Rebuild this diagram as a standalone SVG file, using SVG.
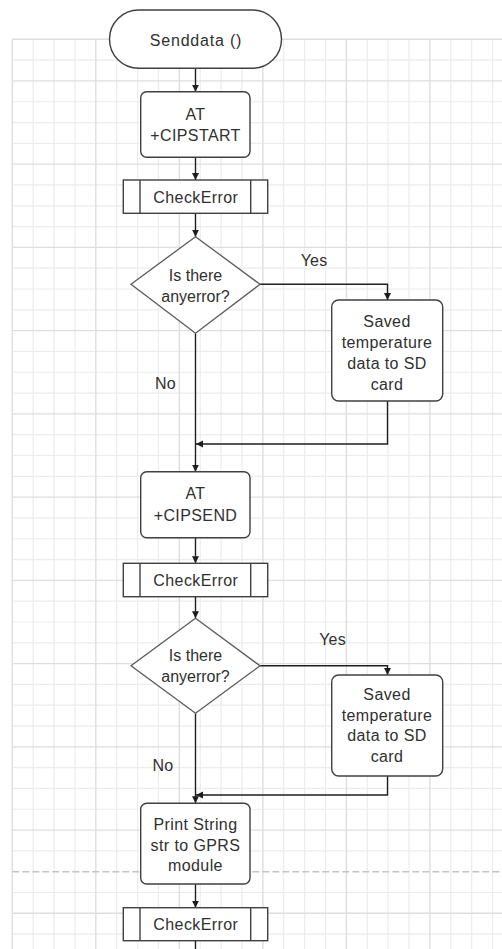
<svg xmlns="http://www.w3.org/2000/svg" width="502" height="949" viewBox="0 0 502 949">
  <defs>
    <style>
      .grid-minor { stroke: #ececec; stroke-width: 1.2; fill: none; }
      .grid-major { stroke: #dedede; stroke-width: 1.4; fill: none; }
      .page-break { stroke: #c4c4c4; stroke-width: 1.4; stroke-dasharray: 7 3; fill: none; }
      .box { fill: #ffffff; stroke: #404040; stroke-width: 1.4; }
      .decision { fill: #ffffff; stroke: #5a5a5a; stroke-width: 1.3; }
      .sub-bar { stroke: #404040; stroke-width: 1.4; fill: none; }
      .wire { fill: none; stroke: #1e1e1e; stroke-width: 1.4; marker-end: url(#arrow); }
      .wire-plain { fill: none; stroke: #1e1e1e; stroke-width: 1.4; }
      text { font-family: "Liberation Sans", Arial, sans-serif; font-size: 16px; fill: #303030; text-anchor: middle; letter-spacing: 0.4px; }
      .label { text-anchor: middle; letter-spacing: 0.2px; }
    </style>
    <marker id="arrow" markerWidth="8" markerHeight="8" refX="7" refY="3.5" orient="auto" markerUnits="userSpaceOnUse">
      <path d="M0,0 L7,3.5 L0,7 Z" fill="#1e1e1e"/>
    </marker>
  </defs>

  <rect x="0" y="0" width="502" height="949" fill="#ffffff"/>

  <!-- background grid -->
  <g id="grid">
    <path class="grid-minor" d="M33.18,39.3V949 M54.06,39.3V949 M74.94,39.3V949 M116.7,39.3V949 M137.58,39.3V949 M158.46,39.3V949 M200.22,39.3V949 M221.1,39.3V949 M241.98,39.3V949 M283.74,39.3V949 M304.62,39.3V949 M325.5,39.3V949 M367.26,39.3V949 M388.14,39.3V949 M409.02,39.3V949 M450.78,39.3V949 M471.66,39.3V949 M492.54,39.3V949
      M12.3,60.11H502 M12.3,101.73H502 M12.3,122.54H502 M12.3,143.35H502 M12.3,184.97H502 M12.3,205.78H502 M12.3,226.59H502 M12.3,268.21H502 M12.3,289.02H502 M12.3,309.83H502 M12.3,351.45H502 M12.3,372.26H502 M12.3,393.07H502 M12.3,434.69H502 M12.3,455.5H502 M12.3,476.31H502 M12.3,517.93H502 M12.3,538.74H502 M12.3,559.55H502 M12.3,601.17H502 M12.3,621.98H502 M12.3,642.79H502 M12.3,684.41H502 M12.3,705.22H502 M12.3,726.03H502 M12.3,767.65H502 M12.3,788.46H502 M12.3,809.27H502 M12.3,850.89H502 M12.3,892.51H502 M12.3,934.13H502"/>
    <path class="grid-major" d="M12.3,39.3V949 M95.82,39.3V949 M179.34,39.3V949 M262.86,39.3V949 M346.38,39.3V949 M429.9,39.3V949
      M12.3,39.3H502 M12.3,80.92H502 M12.3,164.16H502 M12.3,247.4H502 M12.3,330.64H502 M12.3,413.88H502 M12.3,497.12H502 M12.3,580.36H502 M12.3,663.6H502 M12.3,746.84H502 M12.3,830.08H502 M12.3,913.32H502"/>
    <path class="page-break" d="M12.3,871.7H502"/>
  </g>

  <!-- connectors -->
  <g id="connectors">
    <path class="wire" d="M195.5,68.3V91.7"/>
    <path class="wire" d="M195.5,157.3V180"/>
    <path class="wire" d="M195.5,213.3V236.7"/>
    <path class="wire" d="M260,284.3H387.5V300"/>
    <path class="wire" d="M195.5,333.3V471.7"/>
    <path class="wire" d="M387.5,401V444H196"/>
    <path class="wire" d="M195.5,537.7V563.3"/>
    <path class="wire" d="M195.5,596.7V618.3"/>
    <path class="wire" d="M260,665.8H387.5V675"/>
    <path class="wire" d="M195.5,713.3V803.3"/>
    <path class="wire" d="M387.5,776V795H196"/>
    <path class="wire" d="M195.5,884V907.7"/>
    <path class="wire-plain" d="M195.5,940.7V949"/>
  </g>

  <!-- branch labels -->
  <g id="labels">
    <text class="label" x="314" y="265.5">Yes</text>
    <text class="label" x="165.5" y="389">No</text>
    <text class="label" x="332.5" y="645">Yes</text>
    <text class="label" x="163" y="770.5">No</text>
  </g>

  <g id="start">
    <rect class="box" x="109.5" y="10" width="172" height="58.3" rx="29.15"/>
    <text x="196" y="45.7" style="letter-spacing:0.8px">Senddata ()</text>
  </g>

  <g id="cipstart">
    <rect class="box" x="140.7" y="91.7" width="109.3" height="65.6" rx="6"/>
    <text x="195.5" y="120">AT</text>
    <text x="195.5" y="140.7">+CIPSTART</text>
  </g>

  <g id="check1">
    <rect class="box" x="123.3" y="180" width="144.4" height="33.3"/>
    <path class="sub-bar" d="M140,180V213.3 M250.7,180V213.3"/>
    <text x="195.8" y="203">CheckError</text>
  </g>

  <g id="decision1">
    <polygon class="decision" points="195.5,236.7 260,284.3 195.5,333.3 131,284.3"/>
    <text x="195.5" y="280.7" style="letter-spacing:0">Is there</text>
    <text x="195.5" y="301.5" style="letter-spacing:0">anyerror?</text>
  </g>

  <g id="save1">
    <rect class="box" x="331.7" y="300" width="111" height="101" rx="7"/>
    <text x="387" y="326.5">Saved</text>
    <text x="387" y="347.5">temperature</text>
    <text x="387" y="369">data to SD</text>
    <text x="387" y="390">card</text>
  </g>

  <g id="cipsend">
    <rect class="box" x="140.7" y="471.7" width="109.3" height="66" rx="6"/>
    <text x="195.5" y="499">AT</text>
    <text x="195.5" y="520.7">+CIPSEND</text>
  </g>

  <g id="check2">
    <rect class="box" x="123.3" y="563.3" width="144.4" height="33.4"/>
    <path class="sub-bar" d="M140,563.3V596.7 M250.7,563.3V596.7"/>
    <text x="195.8" y="585.7">CheckError</text>
  </g>

  <g id="decision2">
    <polygon class="decision" points="195.5,618.3 260,665.8 195.5,713.3 131,665.8"/>
    <text x="195.5" y="661" style="letter-spacing:0">Is there</text>
    <text x="195.5" y="682" style="letter-spacing:0">anyerror?</text>
  </g>

  <g id="save2">
    <rect class="box" x="331.7" y="675" width="111" height="101" rx="7"/>
    <text x="387" y="699.7">Saved</text>
    <text x="387" y="720.5">temperature</text>
    <text x="387" y="741.2">data to SD</text>
    <text x="387" y="762.3">card</text>
  </g>

  <g id="print">
    <rect class="box" x="140.7" y="803.3" width="109.3" height="80.7" rx="6"/>
    <text x="195.5" y="829.8">Print String</text>
    <text x="195.5" y="850.7">str to GPRS</text>
    <text x="195.5" y="870.7">module</text>
  </g>

  <g id="check3">
    <rect class="box" x="123.3" y="907.7" width="144.4" height="33"/>
    <path class="sub-bar" d="M140,907.7V940.7 M250.7,907.7V940.7"/>
    <text x="195.8" y="930">CheckError</text>
  </g>
</svg>
